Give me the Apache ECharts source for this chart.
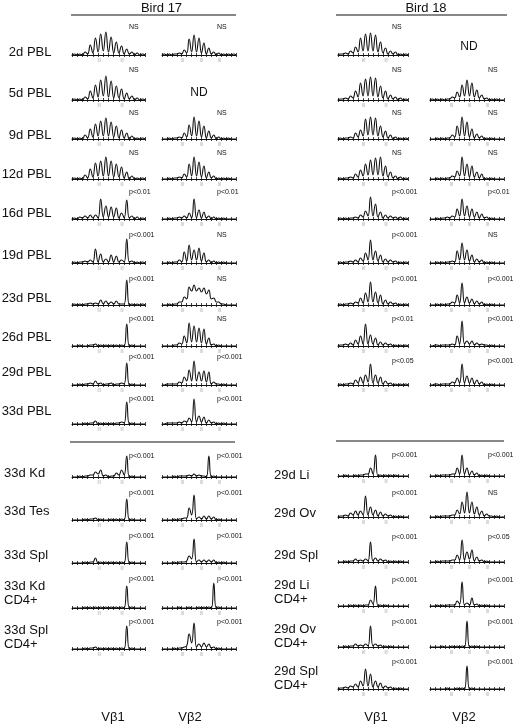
<!DOCTYPE html>
<html><head><meta charset="utf-8">
<script src="https://cdn.jsdelivr.net/npm/echarts@6/dist/echarts.min.js"></script>
<style>html,body{margin:0;padding:0;background:#fff}#c{width:516px;height:728px}</style>
</head><body><div id="c"></div><script>
// ---------- DATA (trace heights sampled valley/peak/valley..., one array per panel) ----------
// Bird 17, Vbeta1, PBL time course
const b17v1_2d  = [0,1,0,1,0,3,1,10,2,17,3,21,4,23,3,18,2,13,2,9,1,6,1,3,0,2,0,1,0];
const b17v1_5d  = [0,1,0,1,0,3,1,9,2,15,3,20,4,24,3,19,2,14,2,11,1,7,1,4,0,2,0,1,0];
const b17v1_9d  = [0,1,0,1,0,4,1,10,2,15,3,18,3,21,3,17,2,13,1,9,1,6,0,3,0,1,0,1,0];
const b17v1_12d = [0,1,0,1,0,4,1,10,2,16,3,18,3,22,3,18,2,15,2,12,1,7,0,3,0,1,0,1,0];
const b17v1_16d = [0,1,0,2,1,3,1,4,1,4,1,20,2,13,2,12,2,11,1,6,1,19,1,3,0,2,0,1,0];
const b17v1_19d = [0,1,0,1,1,2,1,3,1,14,1,9,1,4,1,8,1,7,1,3,1,24,1,2,0,1,0,1,0];
const b17v1_23d = [0,1,0,1,0,1,1,2,1,2,1,5,1,4,1,3,1,4,1,1,1,25,0,1,0,1,0,1,0];
const b17v1_26d = [0,0,0,1,0,0,0,1,1,2,0,1,0,1,0,1,0,1,0,1,0,22,0,1,0,0,0,0,0];
const b17v1_29d = [0,0,0,1,0,1,1,2,1,4,1,2,0,1,1,2,0,1,1,2,1,22,0,1,0,0,0,0,0];
const b17v1_33d = [0,0,0,0,0,1,0,1,1,3,0,1,0,1,0,1,0,1,1,2,1,22,0,1,0,0,0,0,0];
// Bird 17, Vbeta2, PBL time course (5d not done)
const b17v2_2d  = [0,1,0,1,0,1,1,2,1,5,2,16,3,20,3,17,2,12,1,7,1,3,0,2,0,1,0,1,0,1,0];
const b17v2_9d  = [0,0,0,1,0,1,1,2,1,6,2,14,3,22,3,18,2,13,1,8,1,4,0,2,0,1,0,1,0,0,0];
const b17v2_12d = [0,0,0,1,0,1,1,2,1,5,2,15,3,22,3,17,2,13,1,7,1,3,0,1,0,1,0,1,0,0,0];
const b17v2_16d = [0,0,0,1,0,1,1,2,1,3,1,6,1,20,1,9,1,7,1,3,0,2,0,1,0,1,0,0,0,0,0];
const b17v2_19d = [0,0,0,1,0,1,1,3,1,11,2,18,3,13,3,15,2,10,1,3,0,2,0,1,0,1,0,0,0,0,0];
const b17v2_23d = [0,0,0,1,0,1,1,3,3,8,6,18,14,20,14,17,13,17,11,15,6,7,3,3,1,1,0,0,0,0,0];
const b17v2_26d = [0,0,0,0,0,1,1,3,2,10,3,23,4,20,4,18,3,17,2,8,1,2,0,1,0,0,0,0,0,0,0];
const b17v2_29d = [0,0,1,1,1,1,1,3,2,8,4,15,4,24,4,13,4,14,3,13,1,3,1,1,0,1,0,0,0,0,0];
const b17v2_33d = [0,0,1,1,1,1,1,2,1,3,2,6,2,25,2,8,2,7,1,4,1,2,0,1,0,1,0,0,0,0,0];
// Bird 17 tissues
const b17v1_kd     = [0,0,0,1,0,1,1,2,2,5,3,7,1,2,0,1,1,4,2,7,2,21,0,1,0,0,0,0,0];
const b17v1_tes    = [0,0,0,0,0,1,0,1,1,2,0,1,0,0,0,1,0,1,0,1,0,21,0,1,0,0,0,0,0];
const b17v1_spl    = [0,0,0,0,0,1,0,1,1,5,0,1,0,1,0,1,0,1,0,1,0,21,0,1,0,0,0,0,0];
const b17v1_kdCD4  = [0,0,0,0,0,1,0,1,0,1,0,1,0,1,0,1,0,1,0,1,0,22,0,1,0,0,0,0,0];
const b17v1_splCD4 = [0,0,0,0,0,1,0,1,1,2,0,1,0,1,0,1,0,1,0,1,0,23,0,1,0,0,0,0,0];
const b17v2_kd     = [0,0,0,0,0,1,0,1,1,1,1,2,1,3,1,2,1,1,0,21,0,1,0,0,0,0,0,0,0,0,0];
const b17v2_tes    = [0,0,0,0,0,1,0,1,1,2,2,12,5,25,1,3,1,4,1,4,1,3,0,1,0,0,0,0,0,0,0];
const b17v2_spl    = [0,0,0,0,0,1,0,1,1,1,2,7,4,24,1,3,1,3,1,3,1,3,0,1,0,1,0,0,0,0,0];
const b17v2_kdCD4  = [0,0,0,0,0,0,0,1,0,0,0,1,0,0,0,1,0,1,0,1,0,25,0,1,0,0,0,0,0,0,0];
const b17v2_splCD4 = [0,0,0,0,0,1,0,1,1,2,3,15,6,26,2,5,2,6,2,5,1,2,0,1,0,0,0,0,0,0,0];
// Bird 18, Vbeta1, PBL time course
const b18v1_2d  = [0,1,1,2,1,4,2,8,3,17,4,21,4,22,4,20,3,13,2,7,1,4,1,3,0,1,0,1,0];
const b18v1_5d  = [0,1,1,2,1,4,2,9,3,17,4,21,4,23,4,22,3,14,2,9,1,5,1,3,0,2,0,1,0];
const b18v1_9d  = [0,1,0,1,1,2,1,6,2,9,3,20,4,22,4,21,3,13,2,8,1,4,0,2,0,1,0,1,0];
const b18v1_12d = [0,1,0,1,1,2,1,5,2,9,3,15,4,19,4,21,4,22,3,13,2,7,1,3,0,2,0,1,0];
const b18v1_16d = [0,1,0,1,0,1,1,2,1,4,2,8,3,22,3,15,2,7,1,4,1,3,1,2,0,2,0,1,0];
const b18v1_19d = [0,1,0,1,1,2,1,3,1,5,2,10,3,23,3,12,2,8,1,4,1,3,1,2,0,1,0,1,0];
const b18v1_23d = [0,1,0,1,1,2,1,3,2,7,2,12,3,23,3,13,2,10,1,5,1,3,1,2,0,1,0,1,0];
const b18v1_26d = [0,1,1,2,1,3,1,6,2,10,2,22,2,11,2,8,1,4,1,3,1,2,0,1,0,1,0,1,0];
const b18v1_29d = [0,1,0,1,1,2,1,5,2,8,2,10,3,21,2,10,2,8,1,4,1,2,0,1,0,1,0,1,0];
// Bird 18, Vbeta2, PBL time course (2d not done)
const b18v2_5d  = [0,1,0,1,0,1,0,1,1,3,2,8,3,15,4,20,4,17,3,10,2,5,1,2,0,1,0,1,0,0,0];
const b18v2_9d  = [0,0,0,1,0,1,0,1,1,4,2,13,3,22,3,17,2,10,1,5,1,3,0,1,0,1,0,0,0,0,0];
const b18v2_12d = [0,0,0,1,0,1,0,1,1,3,2,8,3,22,3,15,2,13,2,7,1,5,0,1,0,1,0,0,0,0,0];
const b18v2_16d = [0,0,0,1,0,1,1,2,1,3,2,10,3,20,3,13,2,10,2,7,1,5,1,2,0,1,0,0,0,0,0];
const b18v2_19d = [0,0,0,1,0,1,0,1,1,2,1,12,3,20,3,13,2,8,1,4,1,3,0,1,0,1,0,0,0,0,0];
const b18v2_23d = [0,0,0,1,0,1,0,1,1,3,2,10,2,22,2,8,2,6,1,4,1,3,0,1,0,1,0,0,0,0,0];
const b18v2_26d = [0,0,1,1,0,1,1,1,1,2,1,10,2,25,2,5,2,5,1,3,1,2,1,1,0,1,0,0,0,0,0];
const b18v2_29d = [0,0,1,1,0,1,1,1,1,3,2,7,2,21,2,9,2,7,1,5,1,3,0,1,0,1,0,0,0,0,0];
// Bird 18 tissues
const b18v1_li     = [0,0,0,1,0,0,0,1,0,1,1,2,2,8,2,21,0,1,0,1,0,1,0,1,0,0,0,0,0];
const b18v1_ov     = [0,1,1,2,1,4,2,6,2,6,2,21,2,10,2,7,1,5,1,3,1,2,0,1,0,1,0,0,0];
const b18v1_spl    = [0,0,0,1,0,1,1,3,1,2,1,3,1,20,1,4,1,3,1,2,0,1,0,1,0,1,0,0,0];
const b18v1_liCD4  = [0,0,0,0,0,1,0,1,0,1,0,1,1,6,2,20,0,1,0,1,0,0,0,0,0,0,0,0,0];
const b18v1_ovCD4  = [0,0,0,1,0,1,1,3,1,2,1,3,1,21,1,3,1,2,0,1,0,1,0,0,0,0,0,0,0];
const b18v1_splCD4 = [0,1,1,2,1,3,2,5,2,8,3,20,3,15,2,8,2,6,1,3,1,2,0,1,0,1,0,0,0];
const b18v2_li     = [0,0,0,1,0,1,1,1,1,2,2,8,2,21,2,8,1,5,1,3,0,1,0,1,0,0,0,0,0,0,0];
const b18v2_ov     = [0,0,0,1,0,1,1,1,1,2,2,7,3,15,4,25,4,15,3,10,2,6,1,3,1,1,0,1,0,0,0];
const b18v2_spl    = [0,0,0,1,0,1,1,1,1,2,2,7,2,22,2,10,3,12,1,5,1,2,0,1,0,0,0,0,0,0,0];
const b18v2_liCD4  = [0,0,0,1,0,1,0,1,1,1,1,5,2,24,1,3,1,8,1,2,0,1,0,1,0,0,0,0,0,0,0];
const b18v2_ovCD4  = [0,0,0,0,0,1,0,0,0,1,0,1,0,1,0,26,0,1,0,1,0,0,0,0,0,0,0,0,0,0,0];
const b18v2_splCD4 = [0,0,0,0,0,0,0,1,0,0,0,1,0,1,0,23,0,1,0,0,0,0,0,0,0,0,0,0,0,0,0];

// row labels and significance labels
const topRowLabels = ['2d PBL','5d PBL','9d PBL','12d PBL','16d PBL','19d PBL','23d PBL','26d PBL','29d PBL','33d PBL'];
const b17LowLabels = [['33d Kd'],['33d Tes'],['33d Spl'],['33d Kd','CD4+'],['33d Spl','CD4+']];
const b18LowLabels = [['29d Li'],['29d Ov'],['29d Spl'],['29d Li','CD4+'],['29d Ov','CD4+'],['29d Spl','CD4+']];
const b17v1TopP = ['NS','NS','NS','NS','p<0.01','p<0.001','p<0.001','p<0.001','p<0.001','p<0.001'];
const b17v2TopP = ['NS','ND','NS','NS','p<0.01','NS','NS','NS','p<0.001','p<0.001'];
const b18v1TopP = ['NS','NS','NS','NS','p<0.001','p<0.001','p<0.001','p<0.01','p<0.05'];
const b18v2TopP = ['ND','NS','NS','NS','p<0.01','NS','p<0.001','p<0.001','p<0.001'];
const b17v1LowP = ['p<0.001','p<0.001','p<0.001','p<0.001','p<0.001'];
const b17v2LowP = ['p<0.001','p<0.001','p<0.001','p<0.001','p<0.001'];
const b18v1LowP = ['p<0.001','p<0.001','p<0.001','p<0.001','p<0.001','p<0.001'];
const b18v2LowP = ['p<0.001','NS','p<0.05','p<0.001','p<0.001','p<0.001'];
const birdNames = ['Bird 17','Bird 18'];
const vLabels = ['Vβ1','Vβ2'];
const tickText = '|||';

const b17v1Top = [b17v1_2d,b17v1_5d,b17v1_9d,b17v1_12d,b17v1_16d,b17v1_19d,b17v1_23d,b17v1_26d,b17v1_29d,b17v1_33d];
const b17v2Top = [b17v2_2d,null,b17v2_9d,b17v2_12d,b17v2_16d,b17v2_19d,b17v2_23d,b17v2_26d,b17v2_29d,b17v2_33d];
const b18v1Top = [b18v1_2d,b18v1_5d,b18v1_9d,b18v1_12d,b18v1_16d,b18v1_19d,b18v1_23d,b18v1_26d,b18v1_29d];
const b18v2Top = [null,b18v2_5d,b18v2_9d,b18v2_12d,b18v2_16d,b18v2_19d,b18v2_23d,b18v2_26d,b18v2_29d];
const b17v1Low = [b17v1_kd,b17v1_tes,b17v1_spl,b17v1_kdCD4,b17v1_splCD4];
const b17v2Low = [b17v2_kd,b17v2_tes,b17v2_spl,b17v2_kdCD4,b17v2_splCD4];
const b18v1Low = [b18v1_li,b18v1_ov,b18v1_spl,b18v1_liCD4,b18v1_ovCD4,b18v1_splCD4];
const b18v2Low = [b18v2_li,b18v2_ov,b18v2_spl,b18v2_liCD4,b18v2_ovCD4,b18v2_splCD4];

// ---------- LAYOUT ----------
const COL = {
  a: {x:72,  w:73, lab:[5.2,9.6],      px:129},
  b: {x:162, w:74, lab:[4.2,8,11.6],   px:217},
  c: {x:338, w:70, lab:[5.1,9.6],      px:392},
  d: {x:430, w:74, lab:[4.3,8,11.6],   px:488}
};
const topBase   = [55,100,139,179,219,263,305,346,385,424];
const topLabY   = [52,93,135,174,213,255,298,337,372,411];
const b17TopPY  = [27,70,113,153,192,235,279,319,357,399];
const b18TopPY  = [27,70,113,153,192,235,279,319,361];
const b17LowBase = [477,520,563,608,649];
const b17LowLabY = [473,511,555,586,630];
const b17LowPY   = [456,493,536,579,622];
const b18LowBase = [476,517,562,606,647,689];
const b18LowLabY = [475,513,555,585,629,671];
const b18LowPY   = [455,493,537,580,622,662];

const FONT = '"Liberation Sans", Arial, Helvetica, sans-serif';
const grids=[], xAxes=[], yAxes=[], series=[], graphics=[];

function txt(x,y,s,size,align){
  graphics.push({type:'text', x:x, y:y, silent:true,
    style:{text:s, font:size+'px '+FONT, fill:'#111', textAlign:align||'left', textVerticalAlign:'middle'}});
}
function hline(x1,x2,y){
  graphics.push({type:'line', silent:true, shape:{x1:x1,y1:y,x2:x2,y2:y}, style:{stroke:'#111', lineWidth:1}});
}
function panel(col, base, data, p, py){
  if(!data){ txt(col.x+col.w/2, base-7, 'ND', 12, 'center'); return; }
  const n = (data.length-1)/2;
  const g = grids.length;
  grids.push({left:col.x, top:base-30, width:col.w, height:30, containLabel:false});
  const ticks=[]; for(let i=0;i<=n;i++) ticks.push(i);
  xAxes.push({gridIndex:g, type:'value', min:0, max:n, position:'bottom',
    axisLine:{show:true, onZero:false, lineStyle:{color:'#111', width:1}},
    axisTick:{show:true, length:2, customValues:ticks, lineStyle:{color:'#111', width:0.8}},
    axisLabel:{show:true, customValues:col.lab, formatter:function(){return tickText;}, fontSize:4, color:'#999', margin:3, fontFamily:FONT},
    splitLine:{show:false}});
  xAxes.push({gridIndex:g, type:'value', min:0, max:n, position:'bottom', offset:0,
    axisLine:{show:false},
    axisTick:{show:true, inside:true, length:2, customValues:ticks, lineStyle:{color:'#111', width:0.8}},
    axisLabel:{show:false}, splitLine:{show:false}});
  yAxes.push({gridIndex:g, type:'value', min:0, max:30, show:false});
  series.push({type:'line', xAxisIndex:xAxes.length-2, yAxisIndex:g, smooth:0.5, symbol:'none',
    silent:true, animation:false, clip:true,
    lineStyle:{color:'#111', width:1.1},
    data:data.map(function(v,i){return [i/2, v];})});
  txt(col.px, py, p, 7, 'left');
}

// headers
txt(161.5, 8, birdNames[0], 13, 'center'); hline(71, 236, 15);
txt(426, 8, birdNames[1], 13, 'center');   hline(336, 507, 15);
// separators
hline(70, 235, 442); hline(336, 504, 441);

// top section
topRowLabels.forEach(function(l,i){ txt(51.5, topLabY[i], l, 13, 'right'); });
b17v1Top.forEach(function(d,i){ panel(COL.a, topBase[i], d, b17v1TopP[i], b17TopPY[i]); });
b17v2Top.forEach(function(d,i){ panel(COL.b, topBase[i], d, b17v2TopP[i], b17TopPY[i]); });
b18v1Top.forEach(function(d,i){ panel(COL.c, topBase[i], d, b18v1TopP[i], b18TopPY[i]); });
b18v2Top.forEach(function(d,i){
  if(!d){ txt(469, 47, 'ND', 12, 'center'); return; }
  panel(COL.d, topBase[i], d, b18v2TopP[i], b18TopPY[i]); });

// lower section
b17LowLabels.forEach(function(ls,i){ ls.forEach(function(s,k){ txt(4, b17LowLabY[i]+k*14, s, 13, 'left'); }); });
b18LowLabels.forEach(function(ls,i){ ls.forEach(function(s,k){ txt(274, b18LowLabY[i]+k*14, s, 13, 'left'); }); });
b17v1Low.forEach(function(d,i){ panel(COL.a, b17LowBase[i], d, b17v1LowP[i], b17LowPY[i]); });
b17v2Low.forEach(function(d,i){ panel(COL.b, b17LowBase[i], d, b17v2LowP[i], b17LowPY[i]); });
b18v1Low.forEach(function(d,i){ panel(COL.c, b18LowBase[i], d, b18v1LowP[i], b18LowPY[i]); });
b18v2Low.forEach(function(d,i){ panel(COL.d, b18LowBase[i], d, b18v2LowP[i], b18LowPY[i]); });

// bottom column labels
txt(113, 717, vLabels[0], 13, 'center'); txt(190, 717, vLabels[1], 13, 'center');
txt(376, 717, vLabels[0], 13, 'center'); txt(464, 717, vLabels[1], 13, 'center');

const chart = echarts.init(document.getElementById('c'), null, {renderer:'canvas', width:516, height:728});
chart.setOption({
  backgroundColor:'#fff', animation:false,
  grid:grids, xAxis:xAxes, yAxis:yAxes, series:series, graphic:graphics
});
</script></body></html>
